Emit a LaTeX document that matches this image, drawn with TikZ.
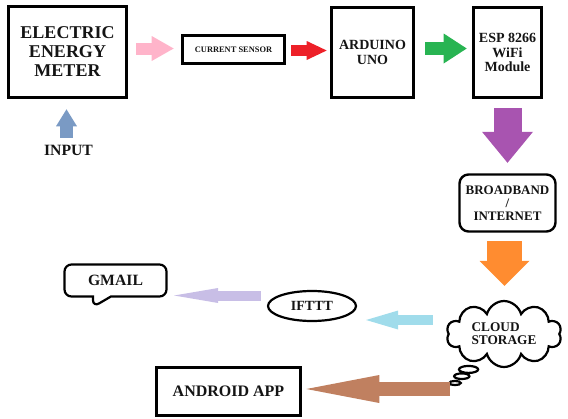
\documentclass[tikz,border=0pt]{standalone}
\usepackage{fontspec}
\setmainfont{Liberation Serif}
\usetikzlibrary{arrows.meta,shapes.geometric,shapes.callouts,shapes.symbols}
\definecolor{txt}{RGB}{20,20,20}
\definecolor{cpink}{RGB}{255,180,202}
\definecolor{cred}{RGB}{237,32,40}
\definecolor{cgreen}{RGB}{40,180,82}
\definecolor{cpurple}{RGB}{168,84,176}
\definecolor{corange}{RGB}{255,140,48}
\definecolor{cinput}{RGB}{122,154,196}
\definecolor{clblue}{RGB}{160,220,235}
\definecolor{clav}{RGB}{200,190,230}
\definecolor{cbrown}{RGB}{192,128,96}
\tikzset{
  box/.style={draw=black, line width=2.6pt, align=center, inner sep=0pt, text=txt},
  barrow/.style n args={3}{line width=#1, -{Triangle[width=#2,length=#3,line width=0pt]}},
}
\begin{document}
\begin{tikzpicture}[x=1pt,y=-1pt]
\useasboundingbox (0,0) rectangle (568,418);

\node[box, minimum width=118pt, minimum height=91pt, font=\bfseries\fontsize{18}{19}\selectfont] (eem) at (67.5,52) {ELECTRIC\\ENERGY\\METER};
\node[box, minimum width=102pt, minimum height=28pt, font=\bfseries\fontsize{8.4}{9}\selectfont] (cs) at (233.5,49.5) {CURRENT SENSOR};
\node[box, minimum width=82pt, minimum height=90pt, font=\bfseries\fontsize{14}{15}\selectfont] (ard) at (372.5,52.5) {ARDUINO\\UNO};
\node[box, minimum width=68pt, minimum height=90pt, font=\bfseries\fontsize{14}{14.5}\selectfont] (esp) at (507.5,52.5) {ESP 8266\\WiFi\\Module};
\node[box, line width=2.4pt, rounded corners=9pt, minimum width=96pt, minimum height=57pt, font=\bfseries\fontsize{13}{13}\selectfont] (bb) at (507.5,203) {BROADBAND\\/\\INTERNET};
\node[box, rectangle callout, line width=2.2pt, rounded corners=7pt, minimum width=102pt, minimum height=32pt, callout absolute pointer={(93,307)}, callout pointer width=18pt, font=\bfseries\fontsize{15.7}{16}\selectfont] (gm) at (115.5,280.5) {GMAIL};
\node[box, ellipse, line width=2.2pt, minimum width=88pt, minimum height=30pt, font=\bfseries\fontsize{14}{14}\selectfont] (ift) at (312,306) {IFTTT};
\node[box, cloud callout, line width=2.2pt, cloud puffs=10, cloud ignores aspect, minimum width=115pt, minimum height=66pt, callout absolute pointer={(455,383)}, callout pointer segments=3, align=left, font=\bfseries\fontsize{13.3}{13}\selectfont] (cloud) at (504,334) {CLOUD\\STORAGE};
\node[box, minimum width=144pt, minimum height=48pt, font=\bfseries\fontsize{16}{16}\selectfont] (and) at (228.5,391.5) {ANDROID APP};
\node[text=txt, inner sep=0pt, font=\bfseries\fontsize{15.7}{16}\selectfont] (inp) at (68.5,150) {INPUT};
\coordinate (bstart) at (450,389);

\draw[barrow={12pt}{25pt}{22pt}, draw=cpink, fill=cpink, shorten <=8.5pt, shorten >=7.5pt] (eem.east |- 0,48.5) -- (cs.west |- 0,48.5);
\draw[barrow={11pt}{19pt}{20pt}, draw=cred, fill=cred, shorten <=5.5pt, shorten >=3.5pt] (cs.east |- 0,50.5) -- (ard.west |- 0,50.5);
\draw[barrow={13pt}{30pt}{23pt}, draw=cgreen, fill=cgreen, shorten <=10.5pt, shorten >=5.5pt] (ard.east |- 0,48.5) -- (esp.west |- 0,48.5);
\draw[barrow={28pt}{51pt}{31pt}, draw=cpurple, fill=cpurple, shorten <=9.5pt, shorten >=10.5pt] (esp.south) -- (bb.north);
\draw[barrow={35pt}{50pt}{25pt}, draw=corange, fill=corange, shorten <=8.5pt, shorten >=14pt] ([xshift=-3pt]bb.south) -- ([xshift=-3pt]bb.south |- cloud.north);
\draw[barrow={13pt}{21pt}{17pt}, draw=cinput, fill=cinput, shorten <=7pt, shorten >=10.5pt] ([xshift=-2pt]inp.north) -- ([xshift=-1pt]eem.south);
\draw[barrow={10pt}{19pt}{32pt}, draw=clblue, fill=clblue, shorten <=14.5pt, shorten >=9pt] (cloud.west |- 0,320) -- (ift.east |- 0,320);
\draw[barrow={10pt}{15pt}{44pt}, draw=clav, fill=clav, shorten <=6pt, shorten >=6.5pt] (ift.west |- 0,295.5) -- (gm.east |- 0,295.5);
\draw[barrow={14pt}{28pt}{73pt}, draw=cbrown, fill=cbrown, shorten >=4.5pt] (bstart) -- (and.east |- bstart);
\end{tikzpicture}
\end{document}
